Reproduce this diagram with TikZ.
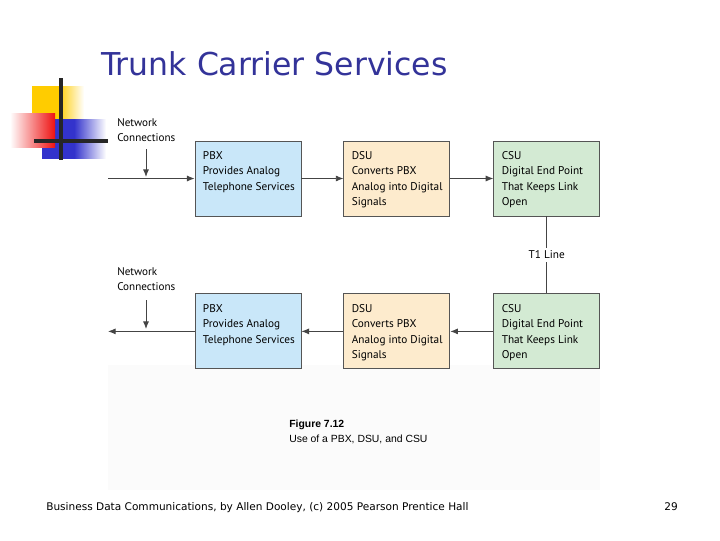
\documentclass[tikz,border=0pt]{standalone}
\usepackage{fontspec}
\setmainfont{PT Sans}
\newfontfamily\titlefont{DejaVu Sans}
\newfontfamily\capfont{Liberation Sans}
\usetikzlibrary{arrows.meta,positioning}
\definecolor{tcsTitle}{HTML}{333399}
\definecolor{tcsBlue}{HTML}{C9E7F9}
\definecolor{tcsSand}{HTML}{FDEBCD}
\definecolor{tcsMint}{HTML}{D3EAD3}
\definecolor{tcsEdge}{HTML}{555555}
\definecolor{tcsInk}{HTML}{444444}
\definecolor{tcsGold}{HTML}{FFCC00}
\definecolor{tcsRed}{HTML}{EE1111}
\definecolor{tcsRoyal}{HTML}{3333CC}
\newcommand{\boxtext}[1]{\parbox[t][1.5cm][t]{2.25cm}{\begin{tabular}[t]{@{}l@{}}#1\end{tabular}}}

\begin{document}
\begin{tikzpicture}[
  x=0.025cm, y=-0.025cm,
  >=Latex,
  unit/.style={draw=tcsEdge, line width=.6pt, minimum width=2.65cm,
    minimum height=1.875cm, inner sep=0pt, font=\fontsize{8}{11}\selectfont},
  flow/.style={-{Latex[length=1.9mm,width=1.5mm]}, line width=.6pt, draw=tcsInk},
  note/.style={align=left, inner sep=0pt, anchor=north west, font=\fontsize{7.9}{10.8}\selectfont}
]
  \useasboundingbox (0,0) rectangle (720,540);
  \fill[black!1.5] (108,365) rectangle (600,490);
  % corner ornament
  \shade[left color=tcsGold, right color=white, middle color=tcsGold] (32,86) rectangle (84,134);
  \shade[left color=tcsRoyal, right color=white, middle color=tcsRoyal] (42,119) rectangle (106,158);
  \shade[left color=white, right color=tcsRed] (10,113) rectangle (55,147);
  \draw[line width=2.2pt, black!85] (61,78) -- (61,160);
  \draw[line width=2.2pt, black!85] (34,141) -- (108,141);
  \node[anchor=base west, inner sep=0pt, text=tcsTitle, font=\titlefont\fontsize{22.4}{24}\selectfont] (title) at (101,75) {Trunk Carrier Services};
  % sending side
  \node[unit, fill=tcsBlue] (pbx1) at (248,178.5) {\boxtext{PBX\\Provides Analog\\Telephone Services}};
  \node[unit, fill=tcsSand, right=1.05cm of pbx1] (dsu1) {\boxtext{DSU\\Converts PBX\\Analog into Digital\\Signals}};
  \node[unit, fill=tcsMint, right=1.075cm of dsu1] (csu1) {\boxtext{CSU\\Digital End Point\\That Keeps Link\\Open}};
  % receiving side
  \node[unit, fill=tcsBlue, below=1.925cm of pbx1] (pbx2) {\boxtext{PBX\\Provides Analog\\Telephone Services}};
  \node[unit, fill=tcsSand, right=1.05cm of pbx2] (dsu2) {\boxtext{DSU\\Converts PBX\\Analog into Digital\\Signals}};
  \node[unit, fill=tcsMint, right=1.075cm of dsu2] (csu2) {\boxtext{CSU\\Digital End Point\\That Keeps Link\\Open}};
  \node[note] (net1) at (117,118) {Network\\Connections};
  \node[note] (net2) at (117,267) {Network\\Connections};
  \coordinate (in1) at (108,178.5);
  \coordinate (out2) at (108,330.5);
  \coordinate (tap1) at (146,149);
  \coordinate (tap2) at (146,300);
  \draw[flow] (in1) -- (pbx1.west);
  \draw[flow] (tap1) -- (146,177);
  \draw[flow] (pbx1) -- (dsu1);
  \draw[flow] (dsu1) -- (csu1);
  \draw[line width=.6pt, draw=tcsInk] (csu1) -- node[fill=white, inner sep=2pt, font=\fontsize{8}{10}\selectfont] (t1) {T1 Line} (csu2);
  \draw[flow] (csu2) -- (dsu2);
  \draw[flow] (dsu2) -- (pbx2);
  \draw[flow] (pbx2.west) -- (pbx2.west -| out2);
  \draw[flow] (tap2) -- (146,329);
  % caption and footer
  \node[anchor=base west, inner sep=0pt, align=left, font=\capfont\fontsize{7.4}{10}\selectfont] (fig) at (289,442) {\textbf{Figure 7.12}\\Use of a PBX, DSU, and CSU};
  \node[anchor=base west, inner sep=0pt, font=\titlefont\fontsize{7.5}{9}\selectfont] (foot) at (46,510) {Business Data Communications, by Allen Dooley, (c) 2005 Pearson Prentice Hall};
  \node[anchor=base west, inner sep=0pt, font=\titlefont\fontsize{7.5}{9}\selectfont] (page) at (664,510) {29};
\end{tikzpicture}
\end{document}
